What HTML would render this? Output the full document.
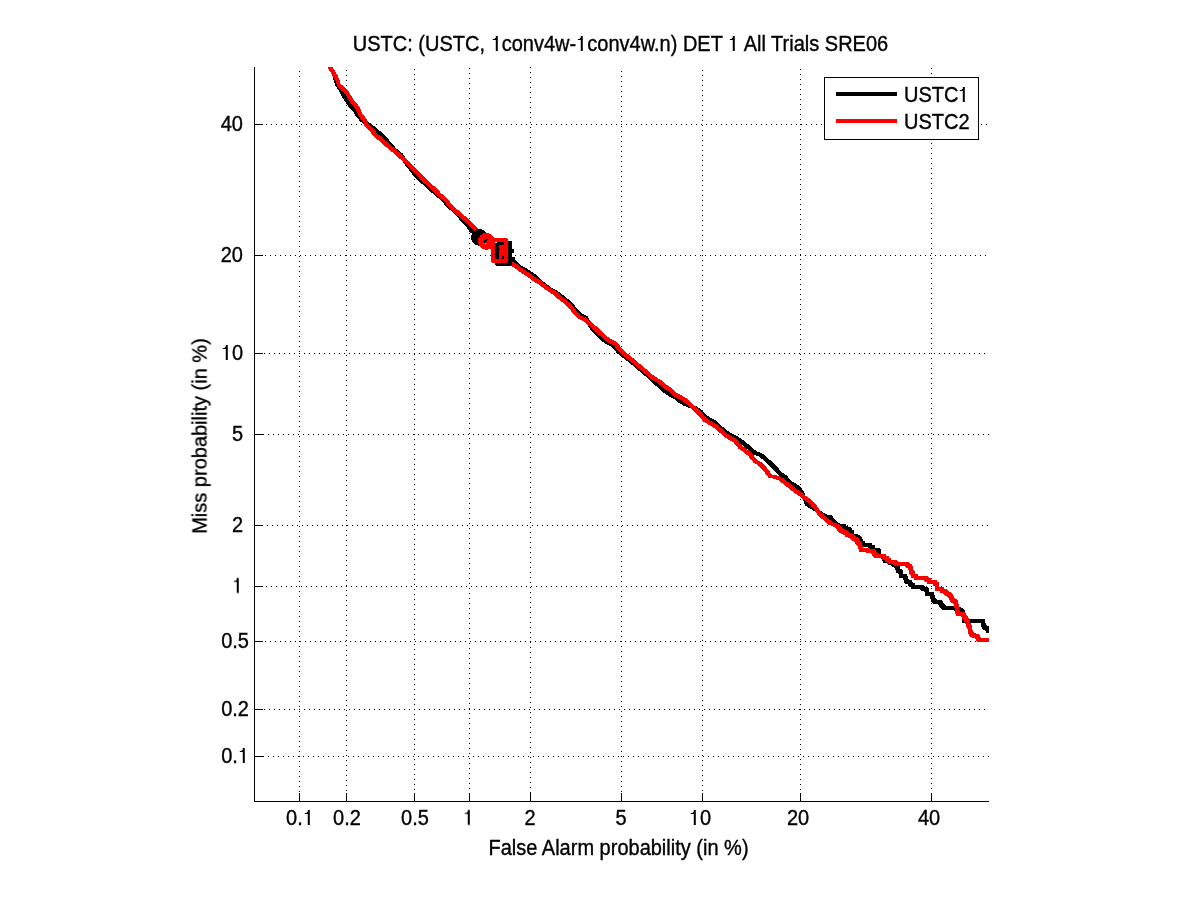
<!DOCTYPE html>
<html><head><meta charset="utf-8"><title>DET</title>
<style>
html,body{margin:0;padding:0;background:#fff;}
body{width:1201px;height:900px;position:relative;overflow:hidden;font-family:"Liberation Sans",sans-serif;font-size:20px;color:#000;}
#plot{position:absolute;left:0;top:0;}
.g{stroke:#000;stroke-width:1;stroke-dasharray:1 4;shape-rendering:crispEdges;fill:none;}
.a{stroke:#000;stroke-width:1;shape-rendering:crispEdges;fill:none;}
.c{stroke:none;shape-rendering:crispEdges;}
.t{position:absolute;white-space:nowrap;line-height:24px;height:24px;transform:scaleY(1.07);transform-origin:50% 18.9px;-webkit-text-stroke:0.35px #000;will-change:transform;}
.xt{top:806px;width:60px;text-align:center;}
.yt{left:143px;width:100px;text-align:right;}
.o{display:inline-block;width:11.12px;height:14px;vertical-align:baseline;fill:#000;overflow:visible;}
#title{left:0;width:1241px;text-align:center;top:32px;}
#xl{left:0;width:1237px;text-align:center;top:836px;}
#yl{left:212px;top:435.5px;width:0;height:0;transform:none;}
#yl span{position:absolute;display:block;width:300px;left:-150px;top:-24px;text-align:center;transform:rotate(-90deg) scaleY(1.02);transform-origin:50% 100%;line-height:24px;}
</style></head><body>
<svg id="plot" width="1201" height="900" viewBox="0 0 1201 900">
<defs><clipPath id="cp"><rect x="254" y="67" width="735" height="735"/></clipPath></defs>
<line x1="299.5" y1="71" x2="299.5" y2="801" class="g"/>
<line x1="346.5" y1="70" x2="346.5" y2="801" class="g"/>
<line x1="414.5" y1="69" x2="414.5" y2="801" class="g"/>
<line x1="469.5" y1="68" x2="469.5" y2="801" class="g"/>
<line x1="530.5" y1="67" x2="530.5" y2="801" class="g"/>
<line x1="621.5" y1="71" x2="621.5" y2="801" class="g"/>
<line x1="702.5" y1="70" x2="702.5" y2="801" class="g"/>
<line x1="800.5" y1="69" x2="800.5" y2="801" class="g"/>
<line x1="931.5" y1="68" x2="931.5" y2="801" class="g"/>
<line x1="258" y1="756.5" x2="989" y2="756.5" class="g"/>
<line x1="259" y1="709.5" x2="989" y2="709.5" class="g"/>
<line x1="255" y1="641.5" x2="989" y2="641.5" class="g"/>
<line x1="256" y1="586.5" x2="989" y2="586.5" class="g"/>
<line x1="257" y1="525.5" x2="989" y2="525.5" class="g"/>
<line x1="258" y1="434.5" x2="989" y2="434.5" class="g"/>
<line x1="259" y1="353.5" x2="989" y2="353.5" class="g"/>
<line x1="255" y1="255.5" x2="989" y2="255.5" class="g"/>
<line x1="256" y1="124.5" x2="989" y2="124.5" class="g"/>
<g clip-path="url(#cp)"><polygon points="324.4,59.4 327.6,59.4 332.1,66.4 336.1,73.4 337.1,78.4 339.1,83.4 342.6,88.4 345.1,93.4 348.1,98.4 351.6,103.4 356.6,108.4 359.1,113.4 363.6,118.4 370.6,123.4 377.1,128.4 382.6,133.4 387.6,138.4 392.1,143.4 396.1,148.4 402.6,153.4 406.1,158.4 409.1,163.4 413.6,168.4 417.1,173.4 422.6,178.4 428.1,183.4 433.6,188.4 439.6,193.4 445.6,198.4 449.1,203.4 455.1,208.4 460.6,213.4 464.1,218.4 469.1,223.4 472.6,228.4 481.1,235.9 491.6,241.4 501.6,248.4 511.6,256.4 515.6,260.4 521.6,265.7 526.6,268.2 531.6,271.9 536.6,274.9 539.1,277.9 541.6,280.4 546.6,283.9 551.6,287.7 556.6,290.4 561.6,293.9 566.6,297.9 572.6,302.9 577.6,309.4 582.6,313.9 587.6,316.4 591.6,323.4 595.1,328.4 600.1,333.4 605.1,337.9 610.1,341.4 615.1,343.9 620.1,349.9 625.6,354.4 631.6,358.9 636.6,362.9 641.6,367.4 646.6,371.4 651.6,375.9 656.6,380.9 661.6,384.4 666.6,389.4 671.6,392.9 676.6,395.4 681.6,399.4 686.6,402.4 691.6,404.4 696.6,406.4 701.6,409.9 706.6,414.9 711.6,418.4 716.6,420.9 721.6,425.9 726.6,429.9 731.6,433.4 736.6,435.9 741.6,438.9 746.6,442.9 751.6,446.9 756.6,451.4 761.6,452.9 766.6,456.9 771.6,461.4 776.6,466.4 781.6,471.9 786.6,475.4 791.6,481.4 796.6,483.9 800.6,486.9 803.6,491.4 808.6,502.4 811.6,504.4 816.6,507.4 821.6,511.4 826.6,514.4 831.6,515.4 836.6,521.4 840.9,524.1 846,524 846,525.5 852,528 852,530 854,530 854,534 857.5,534 862,537 863,541 865,541 865,543 872,543 872,545 874.5,545.5 875,548 879,548 881,549 881,554 885,554.5 887,558.5 890.5,558.5 891.5,560.5 895,560.5 896,563 898,563 899.5,566 900.5,568.5 902.5,570.5 903,574 907,574 908,578 909.5,580 912,580 913,583 915,583 915,585 924,585 925,587 928,587 929,588.5 929,591.5 934,592.3 935,597.3 938,600 942,600.3 944.7,604.7 946.7,606 957.3,606 962,608 965.3,610 966,619 985.3,619 985.7,625.3 989.3,626 990,628.6 997,628.6 997,632.6 993,632.6 986,632.6 985.3,630 981.7,629.3 981.3,623 962,623 961.3,614 958,612 953.3,610 942.7,610 940.7,608.7 938,604.3 934,604 931,601.3 930,596.3 925,595.5 925,592.5 924,591 921,591 920,589 911,589 911,587 909,587 908,584 905.5,584 904,582 903,578 899,578 898.5,574.5 896.5,572.5 895.5,570 894,567 892,567 891,564.5 887.5,564.5 886.5,562.5 883,562.5 881,558.5 877,558 877,553 875,552 871,552 870.5,549.5 868,549 868,547 861,547 861,545 859,545 858,541 853.5,538 850,538 850,534 848,534 848,532 842,529.5 842,528 837.1,527.9 833.4,524.6 828.4,518.6 823.4,517.6 818.4,514.6 813.4,510.6 808.4,507.6 805.4,505.6 800.4,494.6 797.4,490.1 793.4,487.1 788.4,484.6 783.4,478.6 778.4,475.1 773.4,469.6 768.4,464.6 763.4,460.1 758.4,456.1 753.4,454.6 748.4,450.1 743.4,446.1 738.4,442.1 733.4,439.1 728.4,436.6 723.4,433.1 718.4,429.1 713.4,424.1 708.4,421.6 703.4,418.1 698.4,413.1 693.4,409.6 688.4,407.6 683.4,405.6 678.4,402.6 673.4,398.6 668.4,396.1 663.4,392.6 658.4,387.6 653.4,384.1 648.4,379.1 643.4,374.6 638.4,370.6 633.4,366.1 628.4,362.1 622.4,357.6 616.9,353.1 611.9,347.1 606.9,344.6 601.9,341.1 596.9,336.6 591.9,331.6 588.4,326.6 584.4,319.6 579.4,317.1 574.4,312.6 569.4,306.1 563.4,301.1 558.4,297.1 553.4,293.6 548.4,290.9 543.4,287.1 538.4,283.6 535.9,281.1 533.4,278.1 528.4,275.1 523.4,271.4 518.4,268.9 512.4,263.6 508.4,259.6 498.4,251.6 488.4,244.6 477.9,239.1 469.4,231.6 465.9,226.6 460.9,221.6 457.4,216.6 451.9,211.6 445.9,206.6 442.4,201.6 436.4,196.6 430.4,191.6 424.9,186.6 419.4,181.6 413.9,176.6 410.4,171.6 405.9,166.6 402.9,161.6 399.4,156.6 392.9,151.6 388.9,146.6 384.4,141.6 379.4,136.6 373.9,131.6 367.4,126.6 360.4,121.6 355.9,116.6 353.4,111.6 348.4,106.6 344.9,101.6 341.9,96.6 339.4,91.6 335.9,86.6 333.9,81.6 332.9,76.6 328.9,69.6 324.4,62.6" class="c" fill="#000"/>
<polygon points="324.9,59.4 328.1,59.4 331.9,66.4 334.6,70.4 337.6,75.4 339.6,80.4 340,83.4 342.6,85.4 345.3,87.9 348.3,90.4 350.8,95.4 354.1,100.4 356.6,102.9 360.1,108.4 362.1,113.4 366.1,118.4 368.1,123.4 373.1,128.4 377.1,133.4 383.1,138.4 388.6,143.4 394.8,148.4 400.6,153.4 406.1,158.4 411.3,163.4 415.9,168.4 420.9,173.4 425.6,178.4 431.1,183.4 436.6,188.4 441.3,193.4 447.3,198.4 451.1,203.4 456.1,208.4 461.9,213.4 467.9,218.4 473.1,223.4 478.1,228.4 487.6,239.4 493.6,244.4 501.6,251.4 511.6,260.4 514.1,262.6 516.6,263.8 521.6,267.6 526.6,271.1 531.6,274.4 536.6,278.1 541.6,281.1 546.6,284.9 551.6,288.6 556.6,291.6 561.6,296.2 566.6,299.9 571.6,304.4 576.6,310.7 581.6,315.7 586.6,317.9 591.6,322.4 596.6,326.4 601.6,331.4 606.6,335.9 611.6,339.4 616.6,341.9 621.6,347.9 626.6,352.9 631.6,356.9 636.6,360.9 641.6,365.4 646.6,369.4 651.6,373.9 656.6,377.4 661.6,380.4 666.6,384.9 671.6,387.9 676.6,392.9 681.6,395.4 686.6,398.4 691.6,402.9 696.6,407.4 701.6,412.4 706.6,418.4 711.6,421.4 716.6,424.4 721.6,428.4 726.6,432.9 731.6,436.4 736.6,438.9 741.6,445.4 746.6,448.9 751.6,452.9 756.6,459.4 761.6,462.4 766.6,467.4 771.6,474.4 776.6,475.4 781.6,476.9 786.6,480.9 791.6,484.9 796.6,488.9 801.6,492.4 806.6,496.4 811.6,499.9 816.6,505.4 821.6,512.9 826.6,516.9 831.6,521.4 836.6,523.4 839.8,524.7 840.9,526.6 843,528.5 845.5,530 848.5,531.5 849,533 854,534 856,536.5 859,538.5 860,541 862,542.5 863,548 870,548.5 875,549 876,551 878,554 886,554 886,556 889,556 889,558 891,558 891,560 897,560 898,562 908,562 910,564 911,564 912,565 913,567 913,570 915,571.5 915,574 918,574 918,576 928,576 929,578 931,578 931,580 937,580 937,582 939,582 939,587 944,587 944,589 946,589 950,592 952.7,594.7 954.7,598 957.7,600 958.7,604.7 959,609.3 960.7,612 964.7,612.3 967.3,616 969.3,620 971.7,625.3 972.7,630.7 974.7,633.3 978.7,634 981.3,638 997,638 997,642 993,642 977.3,642 974.7,638 970.7,637.3 968.7,634.7 967.7,629.3 965.3,624 963.3,620 960.7,616.3 956.7,616 955,613.3 954.7,608.7 953.7,604 950.7,602 948.7,598.7 946,596 942,593 940,593 940,591 935,591 935,586 933,586 933,584 927,584 927,582 925,582 924,580 914,580 914,578 911,578 911,575.5 909,574 909,571 908,569 907,568 906,568 904,566 894,566 893,564 887,564 887,562 885,562 885,560 882,560 882,558 874,558 872,555 871,553 866,552.5 859,552 858,546.5 856,545 855,542.5 852,540.5 850,538 845,537 844.5,535.5 841.5,534 839,532.5 837.1,530.4 836.2,528.3 833.4,526.6 828.4,524.6 823.4,520.1 818.4,516.1 813.4,508.6 808.4,503.1 803.4,499.6 798.4,495.6 793.4,492.1 788.4,488.1 783.4,484.1 778.4,480.1 773.4,478.6 768.4,477.6 763.4,470.6 758.4,465.6 753.4,462.6 748.4,456.1 743.4,452.1 738.4,448.6 733.4,442.1 728.4,439.6 723.4,436.1 718.4,431.6 713.4,427.6 708.4,424.6 703.4,421.6 698.4,415.6 693.4,410.6 688.4,406.1 683.4,401.6 678.4,398.6 673.4,396.1 668.4,391.1 663.4,388.1 658.4,383.6 653.4,380.6 648.4,377.1 643.4,372.6 638.4,368.6 633.4,364.1 628.4,360.1 623.4,356.1 618.4,351.1 613.4,345.1 608.4,342.6 603.4,339.1 598.4,334.6 593.4,329.6 588.4,325.6 583.4,321.1 578.4,318.9 573.4,313.9 568.4,307.6 563.4,303.1 558.4,299.4 553.4,294.8 548.4,291.8 543.4,288.1 538.4,284.3 533.4,281.3 528.4,277.6 523.4,274.3 518.4,270.8 513.4,267 510.9,265.8 508.4,263.6 498.4,254.6 490.4,247.6 484.4,242.6 474.9,231.6 469.9,226.6 464.7,221.6 458.7,216.6 452.9,211.6 447.9,206.6 444.1,201.6 438.1,196.6 433.4,191.6 427.9,186.6 422.4,181.6 417.7,176.6 412.7,171.6 408.1,166.6 402.9,161.6 397.4,156.6 391.6,151.6 385.4,146.6 379.9,141.6 373.9,136.6 369.9,131.6 364.9,126.6 362.9,121.6 358.9,116.6 356.9,111.6 353.4,106.1 350.9,103.6 347.6,98.6 345.1,93.6 342.1,91.1 339.4,88.6 336.8,86.6 336.4,83.6 334.4,78.6 331.4,73.6 328.7,69.6 324.9,62.6" class="c" fill="#f00"/></g>
<path d="M254.5 67V801.5H989" class="a"/>
<line x1="299.5" y1="801" x2="299.5" y2="793" class="a"/>
<line x1="346.5" y1="801" x2="346.5" y2="793" class="a"/>
<line x1="414.5" y1="801" x2="414.5" y2="793" class="a"/>
<line x1="469.5" y1="801" x2="469.5" y2="793" class="a"/>
<line x1="530.5" y1="801" x2="530.5" y2="793" class="a"/>
<line x1="621.5" y1="801" x2="621.5" y2="793" class="a"/>
<line x1="702.5" y1="801" x2="702.5" y2="793" class="a"/>
<line x1="800.5" y1="801" x2="800.5" y2="793" class="a"/>
<line x1="931.5" y1="801" x2="931.5" y2="793" class="a"/>
<line x1="254" y1="124.5" x2="263" y2="124.5" class="a"/>
<line x1="254" y1="255.5" x2="263" y2="255.5" class="a"/>
<line x1="254" y1="353.5" x2="263" y2="353.5" class="a"/>
<line x1="254" y1="434.5" x2="263" y2="434.5" class="a"/>
<line x1="254" y1="525.5" x2="263" y2="525.5" class="a"/>
<line x1="254" y1="586.5" x2="263" y2="586.5" class="a"/>
<line x1="254" y1="641.5" x2="263" y2="641.5" class="a"/>
<line x1="254" y1="709.5" x2="263" y2="709.5" class="a"/>
<line x1="254" y1="756.5" x2="263" y2="756.5" class="a"/>
<circle cx="479.4" cy="237.4" r="8.4" fill="#000" shape-rendering="crispEdges"/>
<path d="M495 241H512V265H511V266H496V265H495Z M499 245V262H508V245Z" fill="#000" fill-rule="evenodd" shape-rendering="crispEdges"/>
<rect x="512" y="249" width="2" height="4" fill="#000" shape-rendering="crispEdges"/>
<rect x="512" y="257" width="3" height="5" fill="#000" shape-rendering="crispEdges"/>
<rect x="499" y="245" width="5" height="14" fill="#f00" shape-rendering="crispEdges"/>
<rect x="499" y="249" width="1" height="1" fill="#000" shape-rendering="crispEdges"/>
<rect x="502" y="256" width="2" height="3" fill="#000" shape-rendering="crispEdges"/>
<circle cx="486.4" cy="241.4" r="8.45" fill="#f00" shape-rendering="crispEdges"/>
<path d="M485 239H488V240H487V242H486V243H484V240H485Z" fill="#000" shape-rendering="crispEdges"/>
<rect x="485" y="243" width="1" height="1" fill="#fff" shape-rendering="crispEdges"/>
<path d="M491 238H507V239H508V262H507V263H492V262H491Z M495 242V259H504V242Z" fill="#f00" fill-rule="evenodd" shape-rendering="crispEdges"/>
<rect x="495" y="242" width="2" height="1" fill="#fff" shape-rendering="crispEdges"/>
<rect x="824.5" y="77.5" width="154" height="62" style="fill:#fff;stroke:#000;stroke-width:1;shape-rendering:crispEdges"/>
<rect x="836" y="92" width="61" height="4" fill="#000" shape-rendering="crispEdges"/>
<rect x="836" y="119" width="61" height="4" fill="#f00" shape-rendering="crispEdges"/>
</svg>
<div class="t" id="title">USTC: (USTC, <svg class="o" viewBox="0 0 11.12 14"><path d="M4.8 0h2v14h-2V3.75h-3V2.8h2V1.87h1z"/></svg>conv4w-<svg class="o" viewBox="0 0 11.12 14"><path d="M4.8 0h2v14h-2V3.75h-3V2.8h2V1.87h1z"/></svg>conv4w.n) DET <svg class="o" viewBox="0 0 11.12 14"><path d="M4.8 0h2v14h-2V3.75h-3V2.8h2V1.87h1z"/></svg> All Trials SRE06</div>
<div class="t" id="xl">False Alarm probability (in %)</div>
<div class="t" id="yl"><span>Miss probability (in %)</span></div>
<div class="t xt" style="left:269.5px">0.<svg class="o" viewBox="0 0 11.12 14"><path d="M4.8 0h2v14h-2V3.75h-3V2.8h2V1.87h1z"/></svg></div>
<div class="t xt" style="left:316.5px">0.2</div>
<div class="t xt" style="left:384.5px">0.5</div>
<div class="t xt" style="left:438.8px"><svg class="o" viewBox="0 0 11.12 14"><path d="M4.8 0h2v14h-2V3.75h-3V2.8h2V1.87h1z"/></svg></div>
<div class="t xt" style="left:499.8px">2</div>
<div class="t xt" style="left:590.8px">5</div>
<div class="t xt" style="left:670.0px"><svg class="o" viewBox="0 0 11.12 14"><path d="M4.8 0h2v14h-2V3.75h-3V2.8h2V1.87h1z"/></svg>0</div>
<div class="t xt" style="left:768.0px">20</div>
<div class="t xt" style="left:899.0px">40</div>
<div class="t yt" style="top:112px;left:143px">40</div>
<div class="t yt" style="top:243px;left:143px">20</div>
<div class="t yt" style="top:341px;left:143px"><svg class="o" viewBox="0 0 11.12 14"><path d="M4.8 0h2v14h-2V3.75h-3V2.8h2V1.87h1z"/></svg>0</div>
<div class="t yt" style="top:422px;left:143px">5</div>
<div class="t yt" style="top:513px;left:143px">2</div>
<div class="t yt" style="top:574px;left:143px"><svg class="o" viewBox="0 0 11.12 14"><path d="M4.8 0h2v14h-2V3.75h-3V2.8h2V1.87h1z"/></svg></div>
<div class="t yt" style="top:629px;left:149px">0.5</div>
<div class="t yt" style="top:697px;left:149px">0.2</div>
<div class="t yt" style="top:744px;left:149px">0.<svg class="o" viewBox="0 0 11.12 14"><path d="M4.8 0h2v14h-2V3.75h-3V2.8h2V1.87h1z"/></svg></div>
<div class="t" style="left:903.7px;top:83px">USTC<svg class="o" viewBox="0 0 11.12 14"><path d="M4.8 0h2v14h-2V3.75h-3V2.8h2V1.87h1z"/></svg></div>
<div class="t" style="left:903.7px;top:110px">USTC2</div>
</body></html>
